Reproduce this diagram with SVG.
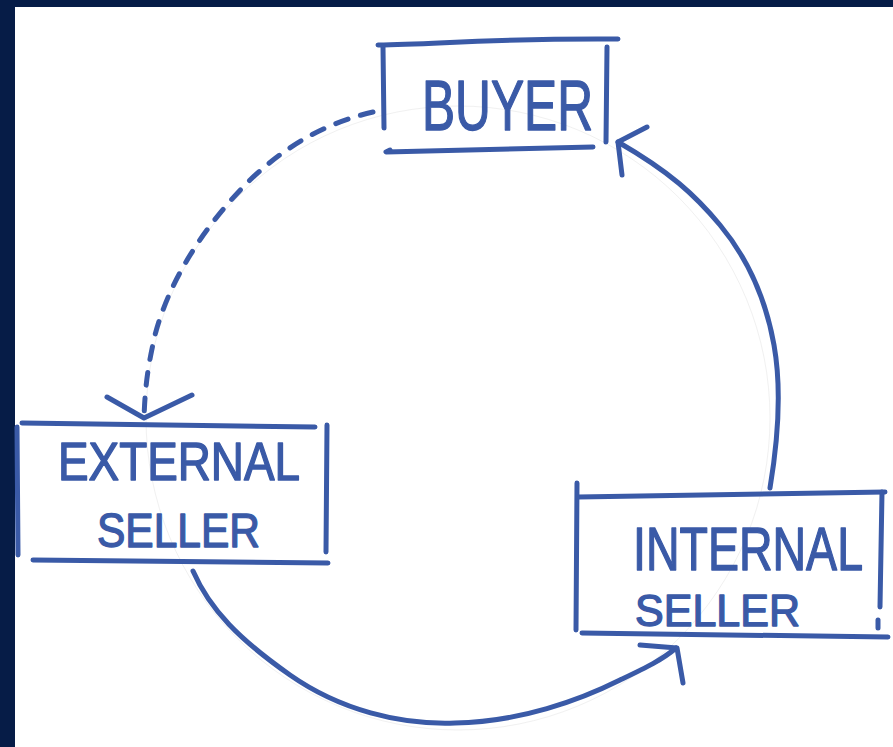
<svg xmlns="http://www.w3.org/2000/svg" width="893" height="747" viewBox="0 0 893 747">
  <style>
    .ink { fill: none; stroke: #3a5aa7; stroke-width: 5; stroke-linecap: round; stroke-linejoin: round; }
    .dash { stroke-dasharray: 13 13; }
    .guide { fill: none; stroke: #e2e2e2; stroke-width: 1; opacity: 0.5; }
    .label { fill: #3a5aa7; stroke: #3a5aa7; stroke-width: 1.4; stroke-linejoin: round; font-family: "Liberation Sans", Arial, sans-serif; }
  </style>

  <!-- paper and dark frame -->
  <rect x="0" y="0" width="893" height="747" fill="#ffffff"/>
  <rect x="0" y="0" width="893" height="7" fill="#061c47"/>
  <rect x="0" y="0" width="15" height="747" fill="#061c47"/>

  <!-- faint pencil guide circle -->
  <circle class="guide" cx="458" cy="418" r="312"/>

  <g id="connectors">
    <!-- buyer -> external seller (dashed) -->
    <path class="ink dash" d="M373,112 C330,122 290,142 250,180 C200,230 168,285 155,335 C147,370 145,390 144,418"/>
    <path class="ink" d="M107,397 L144,418 L192,395"/>

    <!-- external seller -> internal seller -->
    <path class="ink" d="M193,571 C210,610 240,640 290,675 C340,710 400,725 455,723 C520,722 580,700 620,680 C645,668 662,660 676,648"/>
    <path class="ink" d="M640,645 L677,648 L683,683"/>

    <!-- internal seller -> buyer -->
    <path class="ink" d="M770,488 C778,440 782,390 774,345 C765,295 745,255 720,225 C695,195 670,172 618,142"/>
    <path class="ink" d="M647,127 L618,142 L622,175"/>
  </g>

  <g id="buyer">
    <path class="ink" d="M378,45 C440,44 500,38 618,39"/>
    <path class="ink" d="M383,47 L384,128"/>
    <path class="ink" d="M607,47 L606,142"/>
    <path class="ink" d="M390,150 L386,152 L593,147"/>
    <text class="label" x="422" y="130" font-size="70" textLength="171" lengthAdjust="spacingAndGlyphs">BUYER</text>
  </g>

  <g id="external-seller">
    <path class="ink" d="M22,423 L315,427"/>
    <path class="ink" d="M17,427 L18,555"/>
    <path class="ink" d="M327,425 L326,552"/>
    <path class="ink" d="M33,560 L328,563"/>
    <text class="label" x="58" y="480" font-size="53" textLength="242" lengthAdjust="spacingAndGlyphs">EXTERNAL</text>
    <text class="label" x="97" y="547" font-size="48" textLength="163" lengthAdjust="spacingAndGlyphs">SELLER</text>
  </g>

  <g id="internal-seller">
    <path class="ink" d="M578,497 L885,492"/>
    <path class="ink" d="M577,483 L576,630"/>
    <path class="ink" d="M882,492 L880,607"/>
    <path class="ink" d="M878,620 L878,628"/>
    <path class="ink" d="M582,633 L888,637"/>
    <text class="label" x="633" y="570" font-size="62" textLength="230" lengthAdjust="spacingAndGlyphs">INTERNAL</text>
    <text class="label" x="635" y="626" font-size="44" textLength="165" lengthAdjust="spacingAndGlyphs">SELLER</text>
  </g>
</svg>
